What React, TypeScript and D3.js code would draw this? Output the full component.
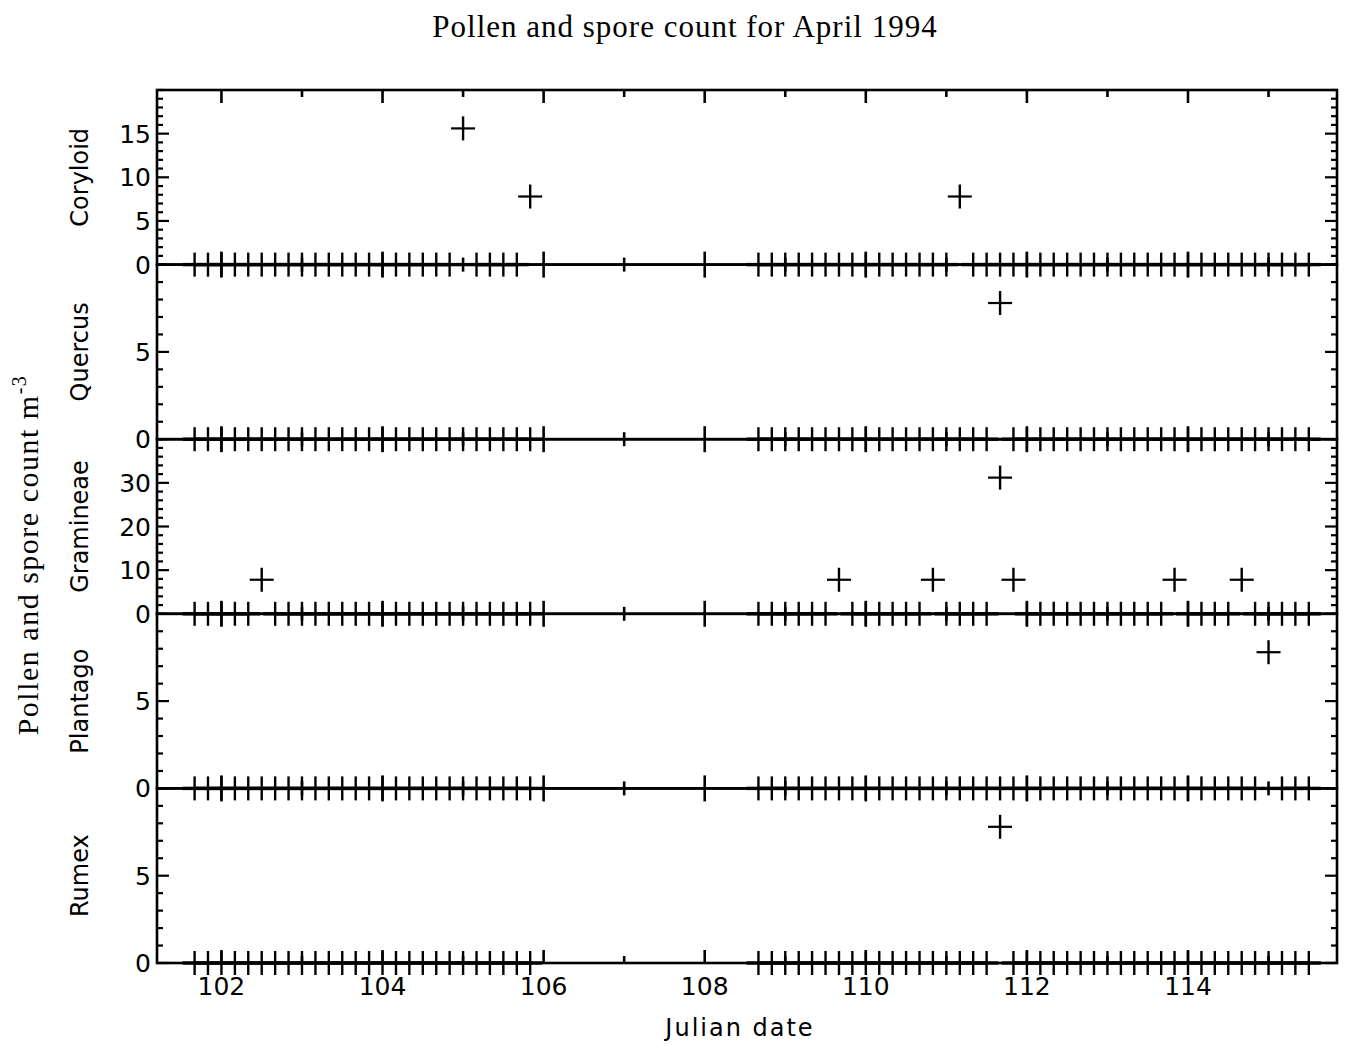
import React from "react";
import * as d3 from "d3";

// Sample times (Julian date, 4-hourly samples)
const sampleTimes: number[] = [
  101.667, 101.833, 102.0, 102.167, 102.333, 102.5, 102.667, 102.833, 103.0, 103.167,
  103.333, 103.5, 103.667, 103.833, 104.0, 104.167, 104.333, 104.5, 104.667, 104.833,
  105.0, 105.167, 105.333, 105.5, 105.667, 105.833,
  108.667, 108.833, 109.0, 109.167, 109.333, 109.5, 109.667, 109.833, 110.0, 110.167,
  110.333, 110.5, 110.667, 110.833, 111.0, 111.167, 111.333, 111.5, 111.667, 111.833,
  112.0, 112.167, 112.333, 112.5, 112.667, 112.833, 113.0, 113.167, 113.333, 113.5,
  113.667, 113.833, 114.0, 114.167, 114.333, 114.5, 114.667, 114.833, 115.0, 115.167,
  115.333, 115.5,
];

// Counts per sample (m^-3)
const coryloid: number[] = [
  0, 0, 0, 0, 0, 0, 0, 0, 0, 0,
  0, 0, 0, 0, 0, 0, 0, 0, 0, 0,
  15.6, 0, 0, 0, 0, 7.8,
  0, 0, 0, 0, 0, 0, 0, 0, 0, 0,
  0, 0, 0, 0, 0, 7.8, 0, 0, 0, 0,
  0, 0, 0, 0, 0, 0, 0, 0, 0, 0,
  0, 0, 0, 0, 0, 0, 0, 0, 0, 0,
  0, 0,
];
const quercus: number[] = [
  0, 0, 0, 0, 0, 0, 0, 0, 0, 0,
  0, 0, 0, 0, 0, 0, 0, 0, 0, 0,
  0, 0, 0, 0, 0, 0,
  0, 0, 0, 0, 0, 0, 0, 0, 0, 0,
  0, 0, 0, 0, 0, 0, 0, 0, 7.8, 0,
  0, 0, 0, 0, 0, 0, 0, 0, 0, 0,
  0, 0, 0, 0, 0, 0, 0, 0, 0, 0,
  0, 0,
];
const gramineae: number[] = [
  0, 0, 0, 0, 0, 7.8, 0, 0, 0, 0,
  0, 0, 0, 0, 0, 0, 0, 0, 0, 0,
  0, 0, 0, 0, 0, 0,
  0, 0, 0, 0, 0, 0, 7.8, 0, 0, 0,
  0, 0, 0, 7.8, 0, 0, 0, 0, 31.2, 7.8,
  0, 0, 0, 0, 0, 0, 0, 0, 0, 0,
  0, 7.8, 0, 0, 0, 0, 7.8, 0, 0, 0,
  0, 0,
];
const plantago: number[] = [
  0, 0, 0, 0, 0, 0, 0, 0, 0, 0,
  0, 0, 0, 0, 0, 0, 0, 0, 0, 0,
  0, 0, 0, 0, 0, 0,
  0, 0, 0, 0, 0, 0, 0, 0, 0, 0,
  0, 0, 0, 0, 0, 0, 0, 0, 0, 0,
  0, 0, 0, 0, 0, 0, 0, 0, 0, 0,
  0, 0, 0, 0, 0, 0, 0, 0, 7.8, 0,
  0, 0,
];
const rumex: number[] = [
  0, 0, 0, 0, 0, 0, 0, 0, 0, 0,
  0, 0, 0, 0, 0, 0, 0, 0, 0, 0,
  0, 0, 0, 0, 0, 0,
  0, 0, 0, 0, 0, 0, 0, 0, 0, 0,
  0, 0, 0, 0, 0, 0, 0, 0, 7.8, 0,
  0, 0, 0, 0, 0, 0, 0, 0, 0, 0,
  0, 0, 0, 0, 0, 0, 0, 0, 0, 0,
  0, 0,
];

const panelNames = ["Coryloid", "Quercus", "Gramineae", "Plantago", "Rumex"];
const panelValues = [coryloid, quercus, gramineae, plantago, rumex];
const panelMax = [20, 10, 40, 10, 10];
const panelMajor = [[0, 5, 10, 15], [0, 5], [0, 10, 20, 30], [0, 5], [0, 5]];
const panelMinorStep = [1, 1, 2, 1, 1];

const xDomain: [number, number] = [101.2, 115.85];
const xTickValues = [102, 104, 106, 108, 110, 112, 114];
const xMinorValues = [103, 105, 107, 109, 111, 113, 115];

const titleText = "Pollen and spore count for April 1994";
const xTitle = "Julian date";
const yTitle = "Pollen and spore count m";

export default function App() {
  const W = 1357, H = 1045;
  const left = 157, right = 1337, top = 90, bottom = 963;
  const nP = panelNames.length;
  const ph = (bottom - top) / nP;
  const x = d3.scaleLinear().domain(xDomain).range([left, right]);
  const sans = "'DejaVu Sans', sans-serif";
  const serif = "'Liberation Serif', 'Times New Roman', serif";
  const axisW = 2.6;
  const mk = 12;

  return (
    <svg width={W} height={H} style={{ position: "absolute", left: 0, top: 0, background: "#fff" }}>
      <rect x={0} y={0} width={W} height={H} fill="#fff" />
      <text x={685} y={37} textAnchor="middle" fontFamily={serif} fontSize={31} letterSpacing={1} fill="#000">
        {titleText}
      </text>
      {panelNames.map((name, i) => {
        const y0 = top + i * ph;
        const y1 = y0 + ph;
        const y = d3.scaleLinear().domain([0, panelMax[i]]).range([y1, y0]);
        const minors = d3.range(0, panelMax[i] + 0.001, panelMinorStep[i]);
        const vals = panelValues[i];
        return (
          <g key={name}>
            <rect x={left} y={y0} width={right - left} height={ph} fill="none" stroke="#000" strokeWidth={axisW} />
            {/* x ticks top & bottom */}
            {xTickValues.concat(xMinorValues).map((t) => {
              const len = xTickValues.includes(t) ? 13 : 7;
              return (
                <g key={"xt" + t}>
                  <line x1={x(t)} x2={x(t)} y1={y0} y2={y0 + len} stroke="#000" strokeWidth={2.6} />
                  <line x1={x(t)} x2={x(t)} y1={y1} y2={y1 - len} stroke="#000" strokeWidth={2.6} />
                </g>
              );
            })}
            {/* y ticks left & right */}
            {minors.map((v) => {
              const len = panelMajor[i].includes(v) ? 12 : 6;
              return (
                <g key={"yt" + v}>
                  <line x1={left} x2={left + len} y1={y(v)} y2={y(v)} stroke="#000" strokeWidth={2.2} />
                  <line x1={right} x2={right - len} y1={y(v)} y2={y(v)} stroke="#000" strokeWidth={2.2} />
                </g>
              );
            })}
            {panelMajor[i].map((v) => (
              <text key={"yl" + v} x={151} y={y(v)} dy="0.36em" textAnchor="end" fontFamily={sans} fontSize={25} fill="#000">
                {v}
              </text>
            ))}
            <text
              transform={`translate(88,${(y0 + y1) / 2}) rotate(-90)`}
              textAnchor="middle"
              fontFamily={sans}
              fontSize={24}
              fill="#000"
            >
              {name}
            </text>
            {/* data markers */}
            {sampleTimes.map((t, k) => {
              const cx = x(t), cy = y(vals[k]);
              return (
                <g key={"m" + k}>
                  <line x1={cx - mk} x2={cx + mk} y1={cy} y2={cy} stroke="#000" strokeWidth={vals[k] === 0 ? 3.4 : 2.2} />
                  <line x1={cx} x2={cx} y1={cy - mk} y2={cy + mk} stroke="#000" strokeWidth={2.4} />
                </g>
              );
            })}
          </g>
        );
      })}
      {xTickValues.map((t) => (
        <text key={"xl" + t} x={x(t)} y={995} textAnchor="middle" fontFamily={sans} fontSize={25} fill="#000">
          {t}
        </text>
      ))}
      <text x={740} y={1036} textAnchor="middle" fontFamily={sans} fontSize={24} letterSpacing={2} fill="#000">
        {xTitle}
      </text>
      <text
        transform={`translate(38,555) rotate(-90)`}
        textAnchor="middle"
        fontFamily={serif}
        fontSize={30}
        letterSpacing={1.5}
        fill="#000"
      >
        {yTitle}
        <tspan dy={-12} fontSize={20}>-3</tspan>
      </text>
    </svg>
  );
}
